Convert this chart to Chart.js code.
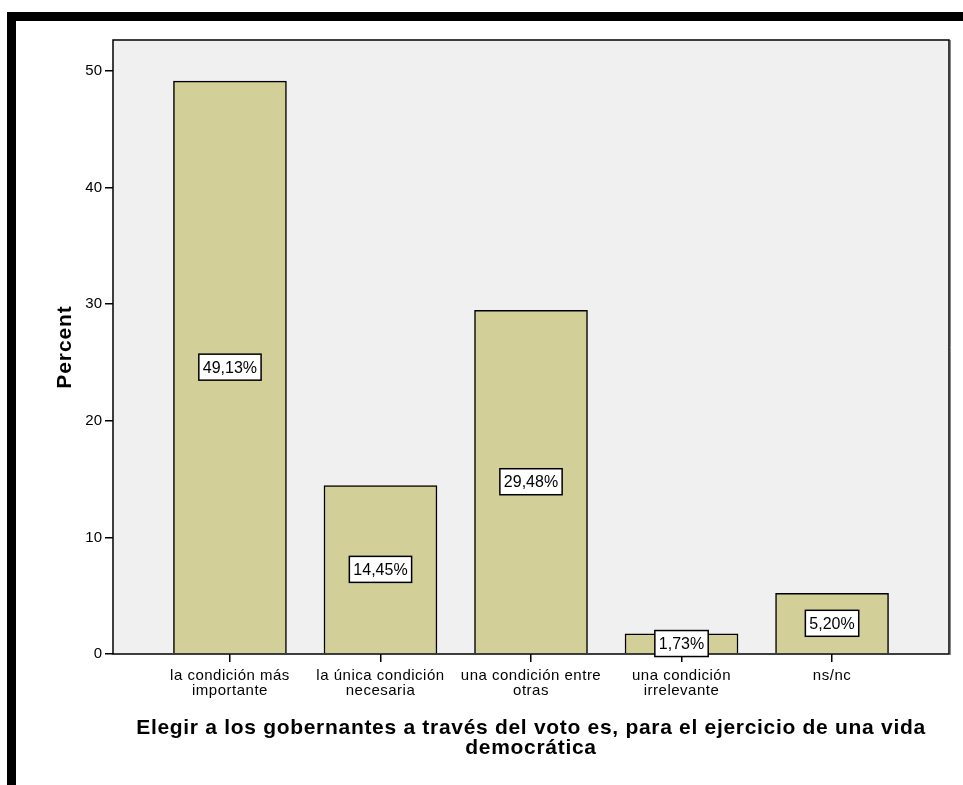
<!DOCTYPE html>
<html>
<head>
<meta charset="utf-8">
<script src="https://cdn.jsdelivr.net/npm/chart.js@4"></script>
<style>
  html, body { margin: 0; padding: 0; background: #fff; overflow: hidden; }
  canvas { display: block; }
</style>
</head>
<body>
<canvas id="chart" width="963" height="785"></canvas>
<script>
// datos
const categorias = [
    ["la condición más", "importante"],
    ["la única condición", "necesaria"],
    ["una condición entre", "otras"],
    ["una condición", "irrelevante"],
    "ns/nc"
];
const porcentajes = [49.13, 14.45, 29.48, 1.73, 5.20];
const etiquetas = ["49,13%", "14,45%", "29,48%", "1,73%", "5,20%"];
const ticksY = [0, 10, 20, 30, 40, 50];

const tituloX = ["Elegir a los gobernantes a través del voto es, para el ejercicio de una vida", "democrática"];
const tituloY = "Percent";

const fuente = "'Liberation Sans', Arial, sans-serif";

// el texto del original es más espaciado: se envuelve el dibujo de cada eje
function espaciado(scale, lsTitulo, lsEtiquetas) {
    if (scale._espaciado) return;
    scale._espaciado = true;
    const dt = scale.drawTitle;
    const dl = scale.drawLabels;
    scale.drawTitle = function (...args) {
        const c = this.ctx;
        const prev = c.letterSpacing;
        c.letterSpacing = lsTitulo;
        dt.apply(this, args);
        c.letterSpacing = prev;
    };
    scale.drawLabels = function (...args) {
        const c = this.ctx;
        const prev = c.letterSpacing;
        c.letterSpacing = lsEtiquetas;
        dl.apply(this, args);
        c.letterSpacing = prev;
    };
}

// marco negro y fondo del área de trazado
const fondoPlugin = {
    id: "fondo",
    beforeDraw(chart) {
        const ctx = chart.ctx;
        const a = chart.chartArea;
        ctx.save();
        ctx.fillStyle = "#fff";
        ctx.fillRect(0, 0, chart.width, chart.height);
        ctx.fillStyle = "#000";
        ctx.fillRect(7, 12, chart.width - 7, 9);
        ctx.fillRect(7, 12, 9, chart.height - 12);
        ctx.fillStyle = "#f0f0f0";
        ctx.fillRect(a.left, a.top, a.right - a.left, a.bottom - a.top);
        ctx.restore();
    },
    afterDatasetsDraw(chart) {
        const ctx = chart.ctx;
        const a = chart.chartArea;
        ctx.save();
        ctx.strokeStyle = "#000";
        ctx.lineWidth = 1.5;
        ctx.strokeRect(a.left, a.top, a.right - a.left, a.bottom - a.top);
        ctx.strokeStyle = "#888";
        ctx.lineWidth = 1;
        ctx.beginPath();
        ctx.moveTo(a.right + 1.5, a.top);
        ctx.lineTo(a.right + 1.5, a.bottom + 1);
        ctx.stroke();

        // cajas con el porcentaje en la mitad de cada barra
        const meta = chart.getDatasetMeta(0);
        ctx.font = "16px " + fuente;
        ctx.textAlign = "center";
        ctx.textBaseline = "middle";
        meta.data.forEach((bar, i) => {
            const y = (bar.y + bar.base) / 2;
            const w = ctx.measureText(etiquetas[i]).width + 8;
            const h = 26;
            ctx.fillStyle = "#fff";
            ctx.fillRect(bar.x - w / 2, y - h / 2, w, h);
            ctx.strokeStyle = "#000";
            ctx.lineWidth = 1.5;
            ctx.strokeRect(bar.x - w / 2, y - h / 2, w, h);
            ctx.fillStyle = "#000";
            ctx.fillText(etiquetas[i], bar.x, y + 1);
        });
        ctx.restore();
    }
};

const ctx = document.getElementById("chart").getContext("2d");
new Chart(ctx, {
    type: "bar",
    data: {
        datasets: [{
            label: tituloY,
            data: porcentajes.map((v, i) => ({ x: i, y: v })),
            backgroundColor: "#d3cf98",
            borderColor: "#000",
            borderWidth: 1.5,
            borderSkipped: "bottom",
            barThickness: 113
        }]
    },
    options: {
        responsive: false,
        animation: false,
        devicePixelRatio: 1,
        layout: { padding: { left: 0, right: 14, top: 40, bottom: 0 } },
        plugins: {
            legend: { display: false },
            tooltip: { enabled: false }
        },
        scales: {
            x: {
                type: "linear",
                min: -0.777,
                max: 4.777,
                offset: false,
                afterBuildTicks: scale => { scale.ticks = categorias.map((c, i) => ({ value: i })); },
                afterFit: scale => { scale.height = 131; espaciado(scale, "0.7px", "0.5px"); },
                grid: { offset: false, drawOnChartArea: false, drawTicks: true, tickLength: 8, color: "#000", lineWidth: 1.5 },
                border: { display: false },
                ticks: {
                    autoSkip: false,
                    maxRotation: 0,
                    padding: 6,
                    color: "#000",
                    font: { family: fuente, size: 15, lineHeight: 1.0 },
                    callback: v => categorias[v]
                },
                title: {
                    display: true,
                    text: tituloX,
                    color: "#000",
                    font: { family: fuente, size: 21, weight: "bold", lineHeight: 0.95 },
                    padding: { top: 0, bottom: 27 }
                }
            },
            y: {
                min: 0,
                max: 52.65,
                afterBuildTicks: scale => { scale.ticks = ticksY.map(v => ({ value: v })); },
                afterFit: scale => { scale.width = 113; espaciado(scale, "0.9px", "0px"); },
                grid: { drawOnChartArea: false, drawTicks: true, tickLength: 8, color: "#000", lineWidth: 1.5 },
                border: { display: false },
                ticks: {
                    padding: 3,
                    color: "#000",
                    font: { family: fuente, size: 15 }
                },
                title: {
                    display: true,
                    text: tituloY,
                    color: "#000",
                    font: { family: fuente, size: 21, weight: "bold" },
                    padding: { top: 53, bottom: 0 }
                }
            }
        }
    },
    plugins: [fondoPlugin]
});
</script>
</body>
</html>
